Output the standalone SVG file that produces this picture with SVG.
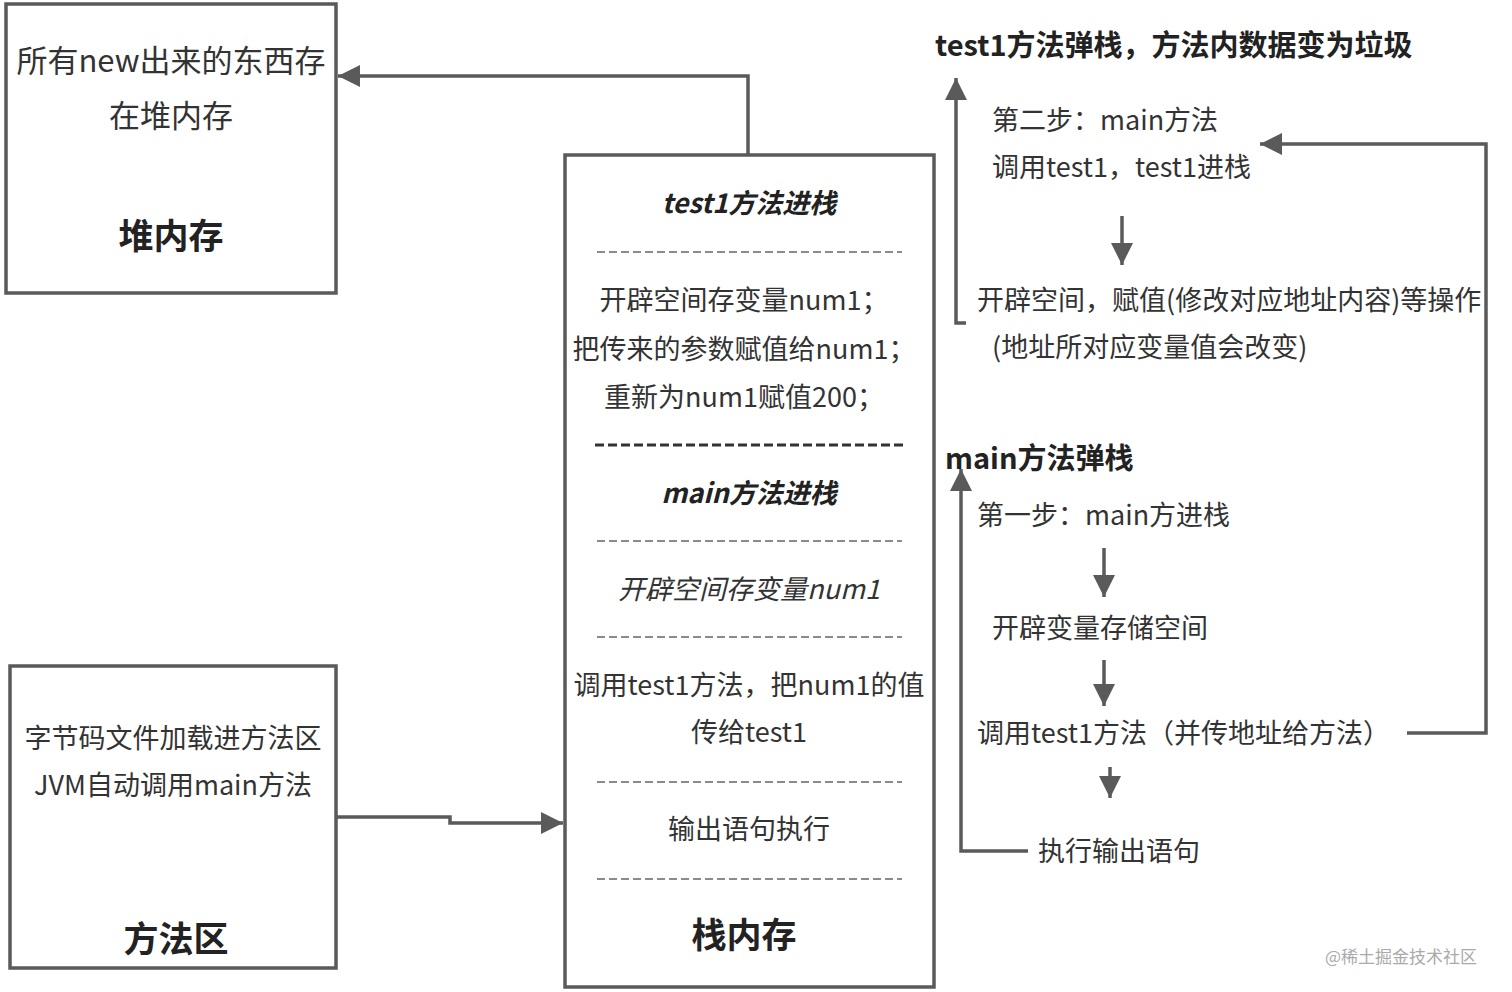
<svg xmlns="http://www.w3.org/2000/svg" width="1512" height="992" viewBox="0 0 1512 992">
<style>
.box{fill:#fff;stroke:#5a5a5a;stroke-width:3.5}
.t{font-family:"Microsoft YaHei","Noto Sans CJK SC","Noto Sans",sans-serif;fill:#333;dominant-baseline:central}
.m{text-anchor:middle}
.b{font-weight:bold;fill:#222}
.i{font-style:italic}
.ln{fill:none;stroke:#5a5a5a;stroke-width:3.5}
.dash{stroke:#666;stroke-width:1.5;stroke-dasharray:8 4}
.dashb{stroke:#333;stroke-width:3;stroke-dasharray:9 4}
.wm{fill:#aaa}
</style>
<defs>
<marker id="ah" markerUnits="userSpaceOnUse" markerWidth="24" markerHeight="22" refX="22" refY="11" orient="auto">
<path d="M0,0 L22,11 L0,22 Z" fill="#5a5a5a"/>
</marker>
</defs>
<rect width="1512" height="992" fill="#fff"/>

<g id="heap">
<rect class="box" x="6" y="4" width="330" height="289"/>
<text class="t m" x="171" y="58" font-size="31">所有new出来的东西存</text>
<text class="t m" x="171" y="113" font-size="31">在堆内存</text>
<text class="t m b" x="171" y="233" font-size="35">堆内存</text>
</g>

<g id="method-area">
<rect class="box" x="10" y="666" width="326" height="302"/>
<text class="t m" x="173" y="736" font-size="27">字节码文件加载进方法区</text>
<text class="t m" x="173" y="783" font-size="27">JVM自动调用main方法</text>
<text class="t m b" x="176" y="936" font-size="35">方法区</text>
</g>

<g id="stack">
<rect class="box" x="565" y="155" width="369" height="832"/>
<text class="t m b i" x="749" y="201" font-size="27">test1方法进栈</text>
<line class="dash" x1="597" y1="252" x2="902" y2="252"/>
<text class="t m" x="744" y="298" font-size="27">开辟空间存变量num1；</text>
<text class="t m" x="744" y="347" font-size="27">把传来的参数赋值给num1；</text>
<text class="t m" x="744" y="395" font-size="27">重新为num1赋值200；</text>
<line class="dashb" x1="595" y1="445" x2="904" y2="445"/>
<text class="t m b i" x="749" y="491" font-size="27">main方法进栈</text>
<line class="dash" x1="597" y1="541" x2="902" y2="541"/>
<text class="t m i" x="749" y="587" font-size="27">开辟空间存变量num1</text>
<line class="dash" x1="597" y1="637" x2="902" y2="637"/>
<text class="t m" x="749" y="683" font-size="27">调用test1方法，把num1的值</text>
<text class="t m" x="749" y="730" font-size="27">传给test1</text>
<line class="dash" x1="597" y1="782" x2="902" y2="782"/>
<text class="t m" x="749" y="827" font-size="27">输出语句执行</text>
<line class="dash" x1="597" y1="879" x2="902" y2="879"/>
<text class="t m" x="744" y="932" font-size="35" style="font-weight:bold;fill:#222">栈内存</text>
</g>

<g id="test1-pop">
<text class="t b" x="935" y="43" font-size="29">test1方法弹栈，方法内数据变为垃圾</text>
<text class="t" x="992" y="118" font-size="27">第二步：main方法</text>
<text class="t" x="992" y="165" font-size="27">调用test1，test1进栈</text>
<text class="t" x="977" y="298" font-size="27">开辟空间，赋值(修改对应地址内容)等操作</text>
<text class="t" x="992" y="345" font-size="27">(地址所对应变量值会改变)</text>
</g>

<g id="main-pop">
<text class="t b" x="945" y="456" font-size="29">main方法弹栈</text>
<text class="t" x="977" y="513" font-size="27">第一步：main方进栈</text>
<text class="t" x="992" y="626" font-size="27">开辟变量存储空间</text>
<text class="t" x="977" y="731" font-size="27">调用test1方法（并传地址给方法）</text>
<text class="t" x="1038" y="849" font-size="27">执行输出语句</text>
</g>

<g id="connectors">
<polyline class="ln" points="748,155 748,76 338,76" marker-end="url(#ah)"/>
<polyline class="ln" points="336,817 450,817 450,823 563,823" marker-end="url(#ah)"/>
<polyline class="ln" points="966,323 956,323 956,78" marker-end="url(#ah)"/>
<line class="ln" x1="1122" y1="216" x2="1122" y2="265" marker-end="url(#ah)"/>
<polyline class="ln" points="1028,851 961,851 961,469" marker-end="url(#ah)"/>
<line class="ln" x1="1104" y1="548" x2="1104" y2="597" marker-end="url(#ah)"/>
<line class="ln" x1="1104" y1="660" x2="1104" y2="706" marker-end="url(#ah)"/>
<line class="ln" x1="1110" y1="767" x2="1110" y2="798" marker-end="url(#ah)"/>
<polyline class="ln" points="1407,733 1486,733 1486,144 1260,144" marker-end="url(#ah)"/>
</g>

<text class="t wm" x="1325" y="955" font-size="17">@稀土掘金技术社区</text>
</svg>
